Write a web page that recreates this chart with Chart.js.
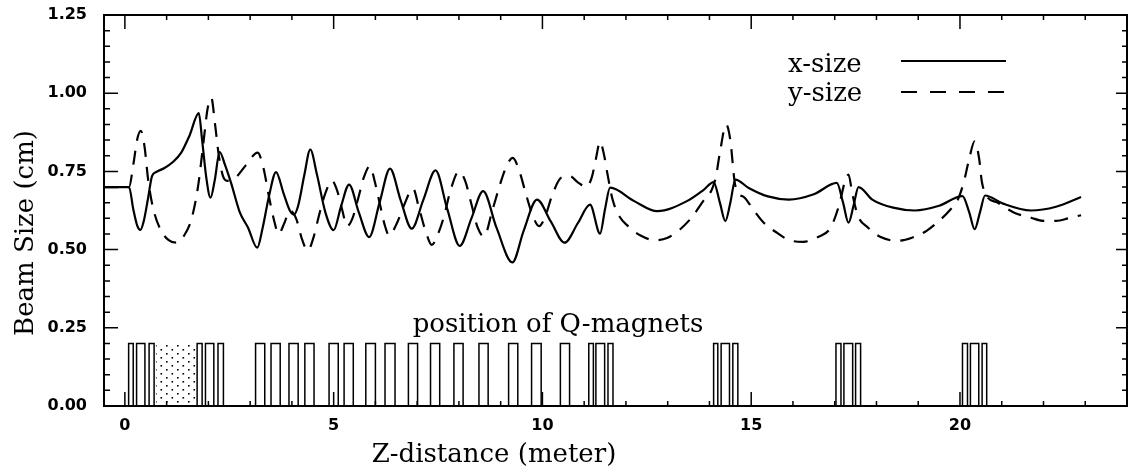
<!DOCTYPE html>
<html>
<head>
<meta charset="utf-8">
<script src="https://cdn.jsdelivr.net/npm/chart.js@4"></script>
<style>
  body { margin: 0; background: #fff; }
</style>
</head>
<body>
<canvas id="beamChart" width="1128" height="468"></canvas>
<script>
// beam envelope (z in metres, size in cm)
const xSizeZ = [-0.5, 0.1, 0.2, 0.3, 0.37, 0.45, 0.55, 0.65, 0.75, 0.95, 1.15, 1.35, 1.55, 1.77,
  1.85, 1.95, 2.05, 2.15, 2.27, 2.4, 2.55, 2.75, 2.95, 3.17, 3.3, 3.45, 3.62, 3.8, 3.95, 4.05, 4.15,
  4.3, 4.44, 4.6, 4.8, 5.0, 5.18, 5.37, 5.6, 5.85, 6.1, 6.35, 6.6, 6.87, 7.15, 7.44, 7.72, 8.02,
  8.3, 8.58, 8.9, 9.28, 9.55, 9.87, 10.2, 10.53, 10.85, 11.14, 11.38, 11.5, 11.62, 12.2, 12.75,
  13.46, 13.87, 14.1, 14.25, 14.38, 14.5, 14.62, 14.94, 15.4, 15.9, 16.5, 17.05, 17.2, 17.33,
  17.45, 17.57, 17.9, 18.4, 18.92, 19.5, 20.06, 20.22, 20.35, 20.48, 20.6, 21.03, 21.7, 22.3, 22.9];
const xSizeV = [0.70, 0.70, 0.63, 0.575, 0.563, 0.59, 0.66, 0.735, 0.748, 0.761, 0.78, 0.81, 0.865,
  0.936, 0.85, 0.73, 0.666, 0.72, 0.812, 0.77, 0.71, 0.62, 0.57, 0.506, 0.57, 0.67, 0.748, 0.68,
  0.625, 0.612, 0.64, 0.74, 0.82, 0.74, 0.62, 0.562, 0.64, 0.708, 0.62, 0.54, 0.65, 0.759, 0.66,
  0.567, 0.66, 0.753, 0.63, 0.512, 0.60, 0.687, 0.57, 0.459, 0.56, 0.66, 0.59, 0.522, 0.585, 0.644,
  0.551, 0.63, 0.698, 0.655, 0.623, 0.655, 0.692, 0.716, 0.65, 0.591, 0.65, 0.724, 0.697, 0.67,
  0.66, 0.677, 0.713, 0.65, 0.586, 0.64, 0.70, 0.66, 0.634, 0.625, 0.64, 0.671, 0.62, 0.565, 0.62,
  0.673, 0.647, 0.625, 0.637, 0.668];

const ySizeZ = [-0.5, 0.1, 0.2, 0.3, 0.38, 0.47, 0.56, 0.68, 0.85, 1.05, 1.23, 1.42, 1.6, 1.75,
  1.88, 1.98, 2.07, 2.16, 2.25, 2.35, 2.45, 2.65, 2.9, 3.18, 3.32, 3.45, 3.58, 3.68, 3.82, 3.95,
  4.1, 4.25, 4.38, 4.52, 4.65, 4.8, 4.96, 5.08, 5.2, 5.32, 5.45, 5.6, 5.72, 5.87, 5.98, 6.1, 6.22,
  6.33, 6.5, 6.68, 6.9, 7.05, 7.2, 7.35, 7.5, 7.65, 7.8, 8.0, 8.15, 8.3, 8.45, 8.6, 8.8, 9.0, 9.15,
  9.29, 9.45, 9.6, 9.75, 9.92, 10.05, 10.25, 10.45, 10.65, 10.85, 11.05, 11.18, 11.28, 11.38,
  11.48, 11.56, 11.68, 11.85, 12.05, 12.35, 12.7, 13.0, 13.3, 13.6, 13.85, 14.05, 14.15, 14.25,
  14.4, 14.5, 14.6, 14.65, 14.85, 15.05, 15.3, 15.58, 15.9, 16.25, 16.6, 16.9, 17.1, 17.25, 17.33,
  17.42, 17.55, 17.8, 18.1, 18.5, 18.85, 19.2, 19.5, 19.75, 19.95, 20.1, 20.22, 20.35, 20.46,
  20.52, 20.62, 20.9, 21.3, 21.7, 22.0, 22.3, 22.6, 22.9];
const ySizeV = [0.70, 0.70, 0.77, 0.855, 0.88, 0.83, 0.72, 0.63, 0.565, 0.53, 0.522, 0.545, 0.60,
  0.70, 0.84, 0.95, 0.985, 0.90, 0.80, 0.735, 0.72, 0.73, 0.77, 0.81, 0.76, 0.67, 0.59, 0.55,
  0.585, 0.625, 0.60, 0.53, 0.497, 0.54, 0.61, 0.68, 0.72, 0.69, 0.63, 0.575, 0.60, 0.67, 0.73,
  0.767, 0.72, 0.65, 0.58, 0.545, 0.58, 0.64, 0.695, 0.63, 0.56, 0.515, 0.55, 0.61, 0.69, 0.75,
  0.72, 0.645, 0.57, 0.542, 0.625, 0.715, 0.77, 0.793, 0.75, 0.68, 0.615, 0.575, 0.60, 0.68, 0.73,
  0.735, 0.715, 0.70, 0.73, 0.79, 0.845, 0.80, 0.74, 0.66, 0.605, 0.575, 0.545, 0.53, 0.538, 0.565,
  0.607, 0.655, 0.69, 0.73, 0.81, 0.90, 0.85, 0.72, 0.69, 0.665, 0.628, 0.586, 0.557, 0.531, 0.525,
  0.54, 0.57, 0.64, 0.72, 0.74, 0.68, 0.61, 0.57, 0.54, 0.528, 0.538, 0.56, 0.592, 0.625, 0.66,
  0.72, 0.79, 0.846, 0.79, 0.72, 0.675, 0.65, 0.618, 0.602, 0.592, 0.592, 0.60, 0.61];

// quadrupole magnets: entry / exit positions (m), drawn with a common height
const magnetStart = [0.09, 0.28, 0.58, 1.73, 1.93, 2.23, 3.13, 3.50, 3.93, 4.31, 4.89, 5.25, 5.77,
  6.23, 6.79, 7.32, 7.88, 8.48, 9.19, 9.74, 10.43, 11.11, 11.28, 11.57, 14.10, 14.28, 14.56,
  17.03, 17.22, 17.50, 20.06, 20.25, 20.53];
const magnetEnd = [0.20, 0.48, 0.70, 1.85, 2.13, 2.36, 3.35, 3.72, 4.15, 4.53, 5.11, 5.47, 6.00,
  6.47, 7.01, 7.54, 8.10, 8.70, 9.41, 9.97, 10.65, 11.22, 11.49, 11.69, 14.20, 14.48, 14.68,
  17.15, 17.43, 17.62, 20.18, 20.45, 20.64];
const magnetHeight = 0.2;
const stippleZ = [0.74, 1.69];

const xTicks = [0, 5, 10, 15, 20];

const pairs = (zs, vs) => zs.map((z, i) => ({ x: z, y: vs[i] }));

const magnetOutline = [];
magnetStart.forEach((s, i) => {
  magnetOutline.push({ x: s, y: 0 }, { x: s, y: magnetHeight },
    { x: magnetEnd[i], y: magnetHeight }, { x: magnetEnd[i], y: 0 });
});

function stipplePattern() {
  const c = document.createElement('canvas');
  c.width = 11; c.height = 8;
  const g = c.getContext('2d');
  g.fillStyle = '#000';
  g.fillRect(1, 1, 1.6, 1.6);
  g.fillRect(6.5, 5, 1.6, 1.6);
  return g.createPattern(c, 'repeat');
}

const serif = '26px "DejaVu Serif"';
const tickFont = { family: 'DejaVu Sans', size: 16, weight: 'bold' };

const decor = {
  id: 'decor',
  afterDraw(chart) {
    const { ctx, chartArea: a, scales: { x, y } } = chart;
    ctx.save();
    ctx.strokeStyle = '#000';
    ctx.fillStyle = '#000';
    ctx.lineWidth = 2;
    ctx.strokeRect(a.left, a.top, a.right - a.left, a.bottom - a.top);

    // inward ticks on all four sides
    ctx.lineWidth = 1.5;
    ctx.beginPath();
    for (let z = 0; z <= 23; z++) {
      const px = x.getPixelForValue(z);
      const len = z % 5 === 0 ? 14 : 5;
      ctx.moveTo(px, a.bottom); ctx.lineTo(px, a.bottom - len);
      ctx.moveTo(px, a.top); ctx.lineTo(px, a.top + len);
    }
    for (let i = 0; i <= 25; i++) {
      const py = y.getPixelForValue(i * 0.05);
      const major = i % 5 === 0;
      ctx.moveTo(a.left, py); ctx.lineTo(a.left + (major ? 14 : 6), py);
      ctx.moveTo(a.right, py); ctx.lineTo(a.right - (major ? 11 : 5), py);
    }
    ctx.stroke();

    ctx.font = serif;
    ctx.textBaseline = 'alphabetic';

    // legend
    ctx.textAlign = 'left';
    ctx.fillText('x-size', 788, 72);
    ctx.fillText('y-size', 788, 101);
    ctx.lineWidth = 2;
    ctx.beginPath(); ctx.moveTo(901, 61); ctx.lineTo(1006, 61); ctx.stroke();
    ctx.setLineDash([16, 13]);
    ctx.beginPath(); ctx.moveTo(901, 92); ctx.lineTo(1006, 92); ctx.stroke();
    ctx.setLineDash([]);

    ctx.textAlign = 'center';
    ctx.fillText('position of Q-magnets', 558, 332);
    ctx.fillText('Z-distance (meter)', 494, 462);

    ctx.translate(33, 233);
    ctx.rotate(-Math.PI / 2);
    ctx.fillText('Beam Size (cm)', 0, 0);
    ctx.restore();
  }
};

new Chart(document.getElementById('beamChart'), {
  type: 'line',
  data: {
    datasets: [{
      label: 'x-size',
      data: pairs(xSizeZ, xSizeV),
      borderColor: '#000',
      borderWidth: 2.2,
      cubicInterpolationMode: 'monotone',
      pointRadius: 0
    }, {
      label: 'y-size',
      data: pairs(ySizeZ, ySizeV),
      borderColor: '#000',
      borderWidth: 2.2,
      borderDash: [14, 10],
      cubicInterpolationMode: 'monotone',
      pointRadius: 0
    }, {
      label: 'Q-magnets',
      data: magnetOutline,
      borderColor: '#000',
      borderWidth: 1.5,
      tension: 0,
      pointRadius: 0
    }, {
      label: 'stipple',
      data: stippleZ.map(z => ({ x: z, y: magnetHeight })),
      borderWidth: 0,
      borderColor: 'rgba(0,0,0,0)',
      backgroundColor: stipplePattern(),
      fill: 'origin',
      pointRadius: 0
    }]
  },
  options: {
    responsive: false,
    animation: false,
    events: [],
    layout: { padding: { left: 0, top: 15, right: 1, bottom: 0 } },
    scales: {
      x: {
        type: 'linear',
        min: -0.5,
        max: 24,
        grid: { display: false, drawTicks: false },
        border: { display: false },
        afterBuildTicks: s => { s.ticks = xTicks.map(v => ({ value: v })); },
        afterFit: s => { s.height = 62; s.paddingLeft = 0; s.paddingRight = 0; },
        ticks: { padding: 10, color: '#000', font: tickFont }
      },
      y: {
        min: 0,
        max: 1.25,
        grid: { display: false, drawTicks: false },
        border: { display: false },
        afterFit: s => { s.width = 104; s.paddingTop = 0; s.paddingBottom = 0; },
        ticks: {
          stepSize: 0.25,
          padding: 17,
          color: '#000',
          font: tickFont,
          callback: v => v.toFixed(2)
        }
      }
    },
    plugins: {
      legend: { display: false },
      tooltip: { enabled: false }
    }
  },
  plugins: [decor]
});
</script>
</body>
</html>
